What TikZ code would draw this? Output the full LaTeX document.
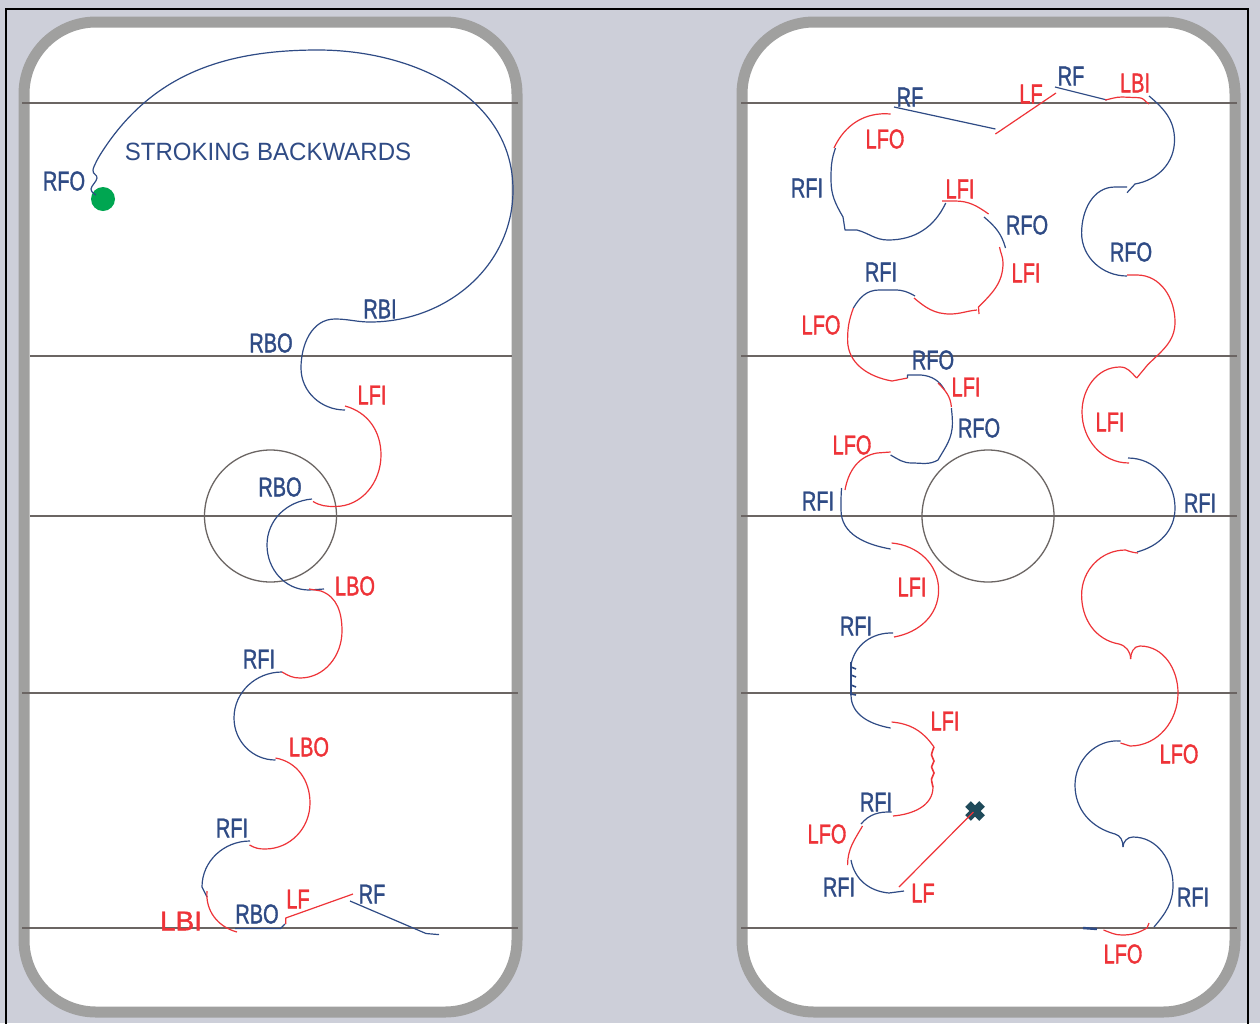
\documentclass[tikz,border=0pt]{standalone}
\usepackage{fontspec}
\setmainfont{Liberation Sans}
\newfontfamily\edgefont[FakeBold=1.6]{Liberation Sans}
\definecolor{colorBack}{HTML}{CDCFD9}
\definecolor{colorBoard}{HTML}{A0A09F}
\definecolor{colorMark}{HTML}{6B6563}
\definecolor{colorRight}{HTML}{2F4B85}
\definecolor{colorLeft}{HTML}{EE3338}
\definecolor{colorStart}{HTML}{00A651}
\definecolor{colorStop}{HTML}{1F4A5A}
\tikzset{
  rink/.style={draw=colorBoard, fill=white, line width=11pt, rounded corners=72pt},
  rinkline/.style={draw=colorMark, line width=1.3pt},
  rightfoot/.style={draw=colorRight, line width=1.2pt, line join=round},
  leftfoot/.style={draw=colorLeft, line width=1.2pt, line join=round},
  rl/.style={text=colorRight, font=\edgefont\fontsize{27}{27}\selectfont, xscale=.74, inner sep=0pt},
  ll/.style={text=colorLeft, font=\edgefont\fontsize{27}{27}\selectfont, xscale=.74, inner sep=0pt},
}
\begin{document}
\begin{tikzpicture}[x=1pt, y=-1pt]
\useasboundingbox (0,0) rectangle (1260,1023);
\fill[colorBack] (0,0) rectangle (1260,1023);
\draw[black, line width=1.6pt] (6,1030) -- (6,9) -- (1248,9) -- (1248,1030);
\path[rink] (24,22) rectangle (517,1012);
\path[rink] (742,22) rectangle (1235,1012);
\draw[rinkline] (22,103) -- (518,103);
\draw[rinkline] (30,356) -- (512,356);
\draw[rinkline] (30,516) -- (512,516);
\draw[rinkline] (22,693) -- (518,693);
\draw[rinkline] (22,928) -- (518,928);
\draw[rinkline] (741,103) -- (1237,103);
\draw[rinkline] (741,356) -- (1237,356);
\draw[rinkline] (741,516) -- (1237,516);
\draw[rinkline] (741,693) -- (1237,693);
\draw[rinkline] (741,928) -- (1237,928);
\draw[rinkline] (270.5,516) circle (66);
\draw[rinkline] (988,516) circle (66);

\fill[colorStart] (103,199) circle (12);
\draw[rightfoot] plot[smooth, tension=.7] coordinates {(96,195) (91,189) (97,178) (93,170) (100,155)};
\draw[rightfoot] (100,155) to[out=58, in=180] (318,50) to[out=0, in=90] (513,190) to[out=-90, in=0] (370,322) to[out=180, in=0] (335,319) to[out=180, in=90] (301,368) to[out=-90, in=180] (345,410);
\draw[leftfoot] (345,406) to[out=-15, in=90] (381,455) to[out=-90, in=0] (335,506.5) to[out=180, in=-30] (313,501.5);
\draw[rightfoot] (312,499) to[out=185, in=90] (267,545) to[out=-90, in=180] (309,590) -- (324,589);
\draw[leftfoot] (309,589) -- (321,591) to[out=-20, in=90] (342,631) to[out=-90, in=0] (300,678) to[out=180, in=-30] (282,672);
\draw[rightfoot] (282,672) to[out=180, in=90] (234,718) to[out=-90, in=180] (275.5,760);
\draw[leftfoot] (275.5,758) to[out=-10, in=90] (310,803) to[out=-90, in=0] (265,849) to[out=180, in=-30] (249.5,845);
\draw[rightfoot] (250,841) to[out=180, in=90] (202,887) -- (207,897);
\draw[leftfoot] (207,891) to[out=-95, in=165] (237,932);
\draw[rightfoot] (235,928.5) -- (280.5,928.5) -- (285,924);
\draw[leftfoot] (285.7,924) -- (285.7,918) -- (353,894);
\draw[rightfoot] (350,901) -- (426,933.5) -- (439,934.6);

\draw[rightfoot] (894,107) -- (995.4,129);
\draw[leftfoot] (995.4,134) -- (1056,93);
\draw[rightfoot] (1055,87) -- (1107,100);
\draw[leftfoot] (1105,100) to[out=10, in=180] (1122,97) -- (1139,97.7) to[out=0, in=150] (1149,104);
\draw[rightfoot] (1149,96) to[out=-40, in=90] (1174.5,140) to[out=-90, in=10] (1135,184) -- (1127,192.7);
\draw[rightfoot] (1127,187) -- (1115,187) to[out=180, in=90] (1081.6,233) to[out=-90, in=180] (1127,276);
\draw[leftfoot] (1127,275) -- (1137,275) to[out=0, in=90] (1175,322) to[out=-90, in=45] (1147.5,365) -- (1136.7,378);
\draw[leftfoot] (1136.7,378) to[out=135, in=0] (1120,367) to[out=180, in=90] (1082,412) to[out=-90, in=180] (1129,463);
\draw[rightfoot] (1128,458) to[out=0, in=90] (1175,508) to[out=-90, in=15] (1137,552);
\draw[leftfoot] (1138,553) to[out=175, in=-20] (1125.5,550) to[out=180, in=90] (1081.6,595) to[out=-90, in=170] (1119,644) to[out=-15, in=90] (1130.6,659);
\draw[leftfoot] (1130.6,659) to[out=90, in=180] (1140,646) to[out=0, in=90] (1178,693) to[out=-90, in=0] (1130,746) -- (1120.5,743);
\draw[rightfoot] (1120.5,741) to[out=175, in=90] (1075,785) to[out=-90, in=165] (1115,834) to[out=-15, in=90] (1123,847);
\draw[rightfoot] (1123,847) to[out=90, in=180] (1133,837) to[out=0, in=90] (1173,885) to[out=-90, in=50] (1154,927);
\draw[leftfoot] (1149,923) -- (1147,928) to[out=-150, in=0] (1122,935) to[out=180, in=-20] (1103.5,930);
\draw[rightfoot, line width=2.4pt] (1083,928) -- (1097,929);

\draw[leftfoot] (890.6,114) to[out=175, in=65] (834,148);
\draw[rightfoot] (835.5,148) to[out=-110, in=90] (831,180) to[out=-90, in=120] (843,217) -- (845,230) -- (857,230) to[out=-15, in=180] (888,240) to[out=0, in=-115] (945.7,203);
\draw[leftfoot] (942,201) -- (955,201) to[out=0, in=145] (988.6,214);
\draw[rightfoot] (984,217) to[out=-40, in=105] (1005.5,248);
\draw[leftfoot] (999.5,247) to[out=-80, in=90] (1003,263) to[out=-90, in=45] (978.5,307) -- (979,314);
\draw[leftfoot] (977,310) to[out=185, in=0] (950,314) to[out=180, in=-40] (914,298);
\draw[rightfoot] (915,296) to[out=150, in=0] (895,290) -- (879,290) to[out=180, in=60] (853.4,308);
\draw[leftfoot] (853.4,308) to[out=-110, in=90] (847.6,340) to[out=-90, in=170] (892,381) -- (907.5,378);
\draw[rightfoot] (907.5,378) -- (907.5,375) -- (921,375) to[out=-5, in=120] (944.7,390);
\draw[leftfoot] (938,383) to[out=-45, in=95] (951.4,407);
\draw[rightfoot] (951.4,408) to[out=-85, in=90] (952.4,423) to[out=-90, in=60] (938,460) to[out=-150, in=0] (912,463) to[out=180, in=-30] (890.6,455);
\draw[leftfoot] (890.6,452) -- (877,453) to[out=190, in=80] (845,490);
\draw[rightfoot] (841.6,488) to[out=-95, in=90] (841,510) to[out=-90, in=170] (890.6,549);
\draw[leftfoot] (891.6,543) to[out=-5, in=90] (938.6,590) to[out=-90, in=10] (894,637);
\draw[rightfoot] (893,633) to[out=178, in=80] (851,665) -- (851,695) to[out=-90, in=170] (890.6,728);
\draw[rightfoot, line width=1.6pt] (851,662) -- (851,695) (851,667) -- (856,669) (851,675) -- (856,677) (851,685) -- (856,687) (851,694) -- (856,695);
\draw[leftfoot] (891.6,722) to[out=-5, in=125] (934,747);
\draw[leftfoot, line width=1.6pt] plot[smooth, tension=.5] coordinates {(934,747) (931.5,755) (934,761) (931.5,767) (934,773) (931.5,779) (933,787)};
\draw[leftfoot] (933,787) to[out=-90, in=5] (893,816);
\draw[rightfoot] (891.6,812) to[out=178, in=50] (861,824);
\draw[leftfoot] (862.5,826) to[out=-120, in=90] (847.6,865);
\draw[rightfoot] (851,860) to[out=-80, in=175] (889,893) -- (904,891);
\draw[colorStop, line width=8pt] (968,804) -- (982,818) (982,804) -- (968,818);
\draw[leftfoot] (899,887) -- (973.4,812);

\node[rl] (rfoA) at (64,181) {RFO};
\node[rl, font=\fontsize{25}{25}\selectfont, xscale=1.3] (title) at (268,152) {STROKING BACKWARDS};
\node[rl] (rbiA) at (380,309) {RBI};
\node[rl] (rboA) at (271,343) {RBO};
\node[ll] (lfiA) at (372,395) {LFI};
\node[rl] (rboB) at (280,487) {RBO};
\node[ll] (lboA) at (355,586) {LBO};
\node[rl] (rfiA) at (259,659) {RFI};
\node[ll] (lboB) at (309,747) {LBO};
\node[rl] (rfiB) at (232,828) {RFI};
\node[ll, xscale=1.4] (lbiA) at (181,921) {LBI};
\node[rl] (rboC) at (257,914) {RBO};
\node[ll] (lfA) at (298,899) {LF};
\node[rl] (rfA) at (372,894) {RF};

\node[rl] (rfB) at (910,97) {RF};
\node[ll] (lfB) at (1031,94) {LF};
\node[rl] (rfC) at (1071,76) {RF};
\node[ll] (lbiB) at (1135,83) {LBI};
\node[ll] (lfoA) at (885,139) {LFO};
\node[rl] (rfiC) at (807,188) {RFI};
\node[ll] (lfiB) at (960,189) {LFI};
\node[rl] (rfoB) at (1027,225) {RFO};
\node[rl] (rfoC) at (1131,252) {RFO};
\node[rl] (rfiD) at (881,272) {RFI};
\node[ll] (lfiC) at (1026,273) {LFI};
\node[ll] (lfoB) at (821,325) {LFO};
\node[rl] (rfoD) at (933,360) {RFO};
\node[ll] (lfiD) at (966,387) {LFI};
\node[rl] (rfoE) at (979,428) {RFO};
\node[ll] (lfiE) at (1110,422) {LFI};
\node[ll] (lfoC) at (852,445) {LFO};
\node[rl] (rfiE) at (818,501) {RFI};
\node[rl] (rfiF) at (1200,503) {RFI};
\node[ll] (lfiF) at (912,587) {LFI};
\node[rl] (rfiG) at (856,626) {RFI};
\node[ll] (lfiG) at (945,721) {LFI};
\node[ll] (lfoD) at (1179,754) {LFO};
\node[rl] (rfiH) at (876,802) {RFI};
\node[ll] (lfoE) at (827,834) {LFO};
\node[rl] (rfiI) at (839,887) {RFI};
\node[ll] (lfC) at (923,893) {LF};
\node[rl] (rfiJ) at (1193,897) {RFI};
\node[ll] (lfoF) at (1123,954) {LFO};
\end{tikzpicture}
\end{document}
